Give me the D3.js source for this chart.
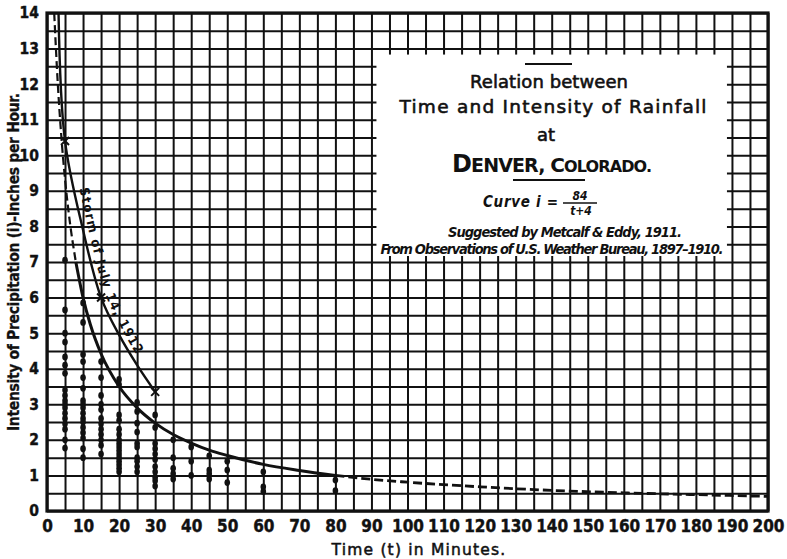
<!DOCTYPE html>
<html>
<head>
<meta charset="utf-8">
<script src="https://cdn.jsdelivr.net/npm/d3@7"></script>
<style>
  body { margin: 0; background: #fff; }
  svg { display: block; }
</style>
</head>
<body>
<svg id="chart" width="787" height="559"></svg>
<script>
// tick labels
const xTickLabels = [0, 10, 20, 30, 40, 50, 60, 70, 80, 90, 100, 110, 120, 130, 140, 150, 160, 170, 180, 190, 200];
const yTickLabels = [0, 1, 2, 3, 4, 5, 6, 7, 8, 9, 10, 11, 12, 13, 14];

// curve i = 84/(t+4)
const curveMinutes = [2, 3, 4, 5, 6, 8, 10, 12, 15, 20, 25, 30, 35, 40, 45, 50, 60, 70, 80, 90, 100, 120, 140, 160, 180, 200];
const curveIntensity = [14.0, 12.0, 10.5, 9.33, 8.4, 7.0, 6.0, 5.25, 4.42, 3.5, 2.9, 2.47, 2.15, 1.91, 1.71, 1.56, 1.31, 1.14, 1.0, 0.89, 0.81, 0.68, 0.58, 0.51, 0.46, 0.41];
const curveSolidFrom = 8;   // dashed above this
const curveSolidTo = 80;    // dashed beyond this

// storm of July 14, 1912
const stormMinutes = [3.2, 5, 10, 15, 20, 25, 30];
const stormIntensity = [14.0, 10.4, 7.9, 6.0, 4.95, 4.1, 3.35];
const stormMarkMinutes = [5, 15, 30];
const stormMarkIntensity = [10.4, 6.0, 3.35];

// U.S. Weather Bureau observations, by duration
const obsMinutes = [5, 10, 15, 20, 25, 30, 35, 40, 45, 50, 60, 80];
const obsIntensity = [
  [7.05, 5.65, 5.0, 4.75, 4.33, 4.1, 3.87, 3.4, 3.25, 3.1, 3.0, 2.9, 2.75, 2.6, 2.45, 2.3, 2.0, 1.77],
  [5.85, 5.3, 4.4, 4.2, 3.75, 3.45, 3.1, 3.0, 2.9, 2.75, 2.6, 2.5, 2.35, 2.2, 2.05, 1.75, 1.5],
  [4.2, 3.75, 3.25, 3.0, 2.85, 2.6, 2.45, 2.3, 2.15, 2.0, 1.85, 1.6],
  [3.7, 3.55, 2.7, 2.55, 2.3, 2.15, 2.0, 1.9, 1.8, 1.7, 1.6, 1.5, 1.4, 1.3, 1.2, 1.1],
  [3.05, 2.8, 2.47, 2.22, 1.9, 1.8, 1.5, 1.4, 1.25, 1.1],
  [2.7, 2.35, 1.9, 1.75, 1.6, 1.45, 1.25, 1.1, 0.95, 0.85, 0.7],
  [2.0, 1.5, 1.2, 1.05, 0.9],
  [1.8, 1.4, 1.0],
  [1.55, 1.15, 1.05, 0.9],
  [1.4, 1.15, 0.8],
  [1.1, 0.68, 0.55],
  [0.87, 0.57]
];

const ink = "#111";
const svg = d3.select("#chart");
svg.append("rect").attr("width", 787).attr("height", 559).attr("fill", "#fff");

const x = d3.scaleLinear().domain([0, 200]).range([47, 768]);
const y = d3.scaleLinear().domain([0, 14]).range([511, 13]);

// grid every 5 minutes and every half inch
const gx = svg.append("g")
  .attr("transform", `translate(0,${y(0)})`)
  .call(d3.axisBottom(x).tickValues(d3.range(0, 201, 5)).tickSize(y(14) - y(0)).tickFormat(""));
const gy = svg.append("g")
  .attr("transform", `translate(${x(0)},0)`)
  .call(d3.axisLeft(y).tickValues(d3.range(0, 14.01, 0.5)).tickSize(x(0) - x(200)).tickFormat(""));
[gx, gy].forEach(g => {
  g.select(".domain").remove();
  g.selectAll("line").attr("stroke", ink).attr("stroke-width", 2);
});

// title box (white patch leaves short stubs of the grid)
svg.append("rect")
  .attr("x", x(90) + 5).attr("y", y(13) + 6)
  .attr("width", x(190) - x(90) - 10).attr("height", y(7) - y(13) - 12)
  .attr("fill", "#fff");

// observations
obsMinutes.forEach((t, k) => {
  svg.append("g").selectAll("ellipse")
    .data(obsIntensity[k])
    .enter().append("ellipse")
    .attr("cx", x(t)).attr("cy", d => y(d))
    .attr("rx", 2.8).attr("ry", 3.4)
    .attr("fill", ink);
});

// curve i = 84/(t+4)
const curvePts = curveMinutes.map((t, k) => [t, curveIntensity[k]]);
const line = d3.line().x(d => x(d[0])).y(d => y(d[1])).curve(d3.curveMonotoneX);
svg.append("path")
  .datum(curvePts.filter(d => d[0] <= curveSolidFrom))
  .attr("d", line).attr("fill", "none").attr("stroke", ink)
  .attr("stroke-width", 2.2).attr("stroke-dasharray", "8,4");
svg.append("path")
  .datum(curvePts.filter(d => d[0] >= curveSolidFrom && d[0] <= curveSolidTo))
  .attr("d", line).attr("fill", "none").attr("stroke", ink).attr("stroke-width", 3);
svg.append("path")
  .datum(curvePts.filter(d => d[0] >= curveSolidTo))
  .attr("d", line).attr("fill", "none").attr("stroke", ink)
  .attr("stroke-width", 2.8).attr("stroke-dasharray", "9,4");

// storm line
const stormPts = stormMinutes.map((t, k) => [t, stormIntensity[k]]);
const stormLine = d3.line().x(d => x(d[0])).y(d => y(d[1])).curve(d3.curveCatmullRom);
svg.append("path")
  .datum(stormPts)
  .attr("d", stormLine).attr("fill", "none").attr("stroke", ink).attr("stroke-width", 2.4);
// label runs alongside the storm line, a few pixels to its right
svg.append("path")
  .attr("id", "storm-label-path")
  .attr("transform", "translate(5,-1.5)")
  .datum(stormPts.filter(d => d[0] >= 5))
  .attr("d", stormLine).attr("fill", "none").attr("stroke", "none");

stormMarkMinutes.forEach((t, k) => {
  const cx = x(t), cy = y(stormMarkIntensity[k]);
  svg.append("path")
    .attr("d", `M${cx - 4},${cy - 4}L${cx + 4},${cy + 4}M${cx - 4},${cy + 4}L${cx + 4},${cy - 4}`)
    .attr("stroke", ink).attr("stroke-width", 2);
});

svg.append("text")
  .attr("font-family", "'DejaVu Sans Condensed', 'DejaVu Sans', sans-serif")
  .attr("font-weight", "bold").attr("font-size", 13)
  .attr("letter-spacing", 1.4).attr("fill", ink)
  .append("textPath")
  .attr("href", "#storm-label-path")
  .attr("startOffset", 50)
  .text("Storm of July 14, 1912");

// plot frame
svg.append("rect")
  .attr("x", x(0)).attr("y", y(14))
  .attr("width", x(200) - x(0)).attr("height", y(0) - y(14))
  .attr("fill", "none").attr("stroke", ink).attr("stroke-width", 3.2);

// axis numbers
const ax = svg.append("g")
  .attr("transform", `translate(0,${y(0)})`)
  .call(d3.axisBottom(x).tickValues(xTickLabels).tickSize(0).tickPadding(9));
const ay = svg.append("g")
  .attr("transform", `translate(${x(0)},0)`)
  .call(d3.axisLeft(y).tickValues(yTickLabels).tickSize(0).tickPadding(8));
[ax, ay].forEach(g => {
  g.select(".domain").remove();
  g.selectAll("text")
    .attr("fill", ink)
    .attr("stroke", ink).attr("stroke-width", 0.4)
    .attr("font-family", "'Liberation Sans Narrow', 'DejaVu Sans Condensed', sans-serif")
    .attr("font-weight", "bold");
});
ax.selectAll("text").attr("font-size", 17);
ay.selectAll("text").attr("font-size", 15.5);

// axis titles
svg.append("text")
  .attr("x", 419).attr("y", 555)
  .attr("text-anchor", "middle")
  .attr("font-family", "'DejaVu Sans', sans-serif")
  .attr("font-size", 15.5).attr("letter-spacing", 1.2)
  .attr("fill", ink).attr("stroke", ink).attr("stroke-width", 0.5)
  .text("Time (t) in Minutes.");

svg.append("text")
  .attr("transform", "translate(19,262) rotate(-90)")
  .attr("text-anchor", "middle")
  .attr("font-family", "'Liberation Sans Narrow', 'DejaVu Sans Condensed', sans-serif")
  .attr("font-weight", "bold").attr("font-size", 15.5)
  .attr("fill", ink).attr("stroke", ink).attr("stroke-width", 0.3)
  .attr("textLength", 338)
  .text("Intensity of Precipitation (i)-Inches per Hour.");

// title block
const box = svg.append("g")
  .attr("font-family", "'DejaVu Sans', sans-serif")
  .attr("fill", ink);
box.append("line").attr("x1", 525).attr("x2", 572).attr("y1", 64).attr("y2", 64)
  .attr("stroke", ink).attr("stroke-width", 1.8);
const heading = box.append("g").attr("stroke", ink).attr("stroke-width", 0.6);
heading.append("text").attr("x", 549).attr("y", 88).attr("text-anchor", "middle")
  .attr("font-size", 18).attr("textLength", 158).text("Relation between");
heading.append("text").attr("x", 553).attr("y", 113).attr("text-anchor", "middle")
  .attr("font-size", 18.5).attr("textLength", 307).text("Time and Intensity of Rainfall");
heading.append("text").attr("x", 546).attr("y", 141).attr("text-anchor", "middle")
  .attr("font-size", 18).text("at");

const denver = box.append("text").attr("x", 552).attr("y", 172).attr("text-anchor", "middle")
  .attr("font-weight", "bold").attr("textLength", 200);
denver.append("tspan").attr("font-size", 24).text("D");
denver.append("tspan").attr("font-size", 19).text("ENVER, ");
denver.append("tspan").attr("font-size", 20).text("C");
denver.append("tspan").attr("font-size", 16).text("OLORADO.");
box.append("line").attr("x1", 513).attr("x2", 585).attr("y1", 180).attr("y2", 180)
  .attr("stroke", ink).attr("stroke-width", 1.8);

const italic = "'DejaVu Sans Condensed', 'DejaVu Sans', sans-serif";
box.append("text").attr("x", 483).attr("y", 207)
  .attr("font-family", italic).attr("font-style", "italic").attr("font-weight", "bold")
  .attr("font-size", 15).attr("textLength", 75).text("Curve i =");
box.append("text").attr("x", 580).attr("y", 200).attr("text-anchor", "middle")
  .attr("font-family", italic).attr("font-style", "italic").attr("font-weight", "bold")
  .attr("font-size", 12).text("84");
box.append("line").attr("x1", 563).attr("x2", 597).attr("y1", 203).attr("y2", 203)
  .attr("stroke", ink).attr("stroke-width", 1.5);
box.append("text").attr("x", 581).attr("y", 215).attr("text-anchor", "middle")
  .attr("font-family", italic).attr("font-style", "italic").attr("font-weight", "bold")
  .attr("font-size", 12).text("t+4");

box.append("text").attr("x", 565).attr("y", 237).attr("text-anchor", "middle")
  .attr("font-family", italic).attr("font-style", "italic").attr("font-weight", "bold")
  .attr("font-size", 14.5).attr("textLength", 234).text("Suggested by Metcalf & Eddy, 1911.");
box.append("text").attr("x", 552).attr("y", 254).attr("text-anchor", "middle")
  .attr("font-family", italic).attr("font-style", "italic").attr("font-weight", "bold")
  .attr("font-size", 14.5).attr("textLength", 343).text("From Observations of U.S. Weather Bureau, 1897\u20131910.");
</script>
</body>
</html>
